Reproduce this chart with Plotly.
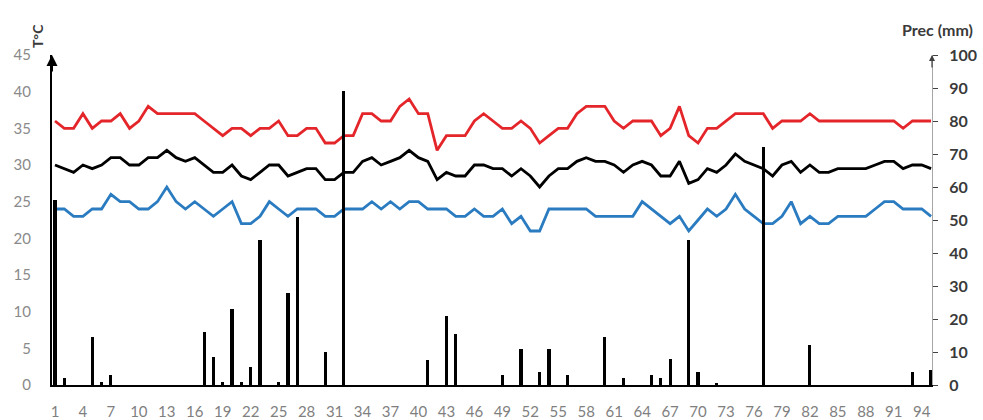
import plotly.graph_objects as go

# Day index (1..95)
days = list(range(1, 96))

# Daily maximum temperature (°C)
t_max = [36, 35, 35, 37, 35, 36, 36, 37, 35, 36, 38, 37, 37, 37, 37, 37, 36, 35, 34, 35,
         35, 34, 35, 35, 36, 34, 34, 35, 35, 33, 33, 34, 34, 37, 37, 36, 36, 38, 39, 37,
         37, 32, 34, 34, 34, 36, 37, 36, 35, 35, 36, 35, 33, 34, 35, 35, 37, 38, 38, 38,
         36, 35, 36, 36, 36, 34, 35, 38, 34, 33, 35, 35, 36, 37, 37, 37, 37, 35, 36, 36,
         36, 37, 36, 36, 36, 36, 36, 36, 36, 36, 36, 35, 36, 36, 36]

# Daily mean temperature (°C)
t_mean = [30, 29.5, 29, 30, 29.5, 30, 31, 31, 30, 30, 31, 31, 32, 31, 30.5, 31, 30, 29, 29, 30,
          28.5, 28, 29, 30, 30, 28.5, 29, 29.5, 29.5, 28, 28, 29, 29, 30.5, 31, 30, 30.5, 31, 32, 31,
          30.5, 28, 29, 28.5, 28.5, 30, 30, 29.5, 29.5, 28.5, 29.5, 28.5, 27, 28.5, 29.5, 29.5, 30.5, 31, 30.5, 30.5,
          30, 29, 30, 30.5, 30, 28.5, 28.5, 30.5, 27.5, 28, 29.5, 29, 30, 31.5, 30.5, 30, 29.5, 28.5, 30, 30.5,
          29, 30, 29, 29, 29.5, 29.5, 29.5, 29.5, 30, 30.5, 30.5, 29.5, 30, 30, 29.5]

# Daily minimum temperature (°C)
t_min = [24, 24, 23, 23, 24, 24, 26, 25, 25, 24, 24, 25, 27, 25, 24, 25, 24, 23, 24, 25,
         22, 22, 23, 25, 24, 23, 24, 24, 24, 23, 23, 24, 24, 24, 25, 24, 25, 24, 25, 25,
         24, 24, 24, 23, 23, 24, 23, 23, 24, 22, 23, 21, 21, 24, 24, 24, 24, 24, 23, 23,
         23, 23, 23, 25, 24, 23, 22, 23, 21, 22.5, 24, 23, 24, 26, 24, 23, 22, 22, 23, 25,
         22, 23, 22, 22, 23, 23, 23, 23, 24, 25, 25, 24, 24, 24, 23]

# Daily precipitation (mm), days without rain omitted
rain_days = [1, 2, 5, 6, 7, 17, 18, 19, 20, 21, 22, 23, 25, 26, 27, 30, 32, 41, 43, 44,
             49, 51, 53, 54, 56, 60, 62, 65, 66, 67, 69, 70, 72, 77, 82, 93, 95]
rain_mm = [56, 2, 14.5, 1, 3, 16, 8.5, 1, 23, 1, 5.5, 44, 1, 28, 51, 10, 89, 7.5, 21, 15.5,
           3, 11, 4, 11, 3, 14.5, 2, 3, 2, 8, 44, 4, 0.5, 72, 12, 4, 4.5]

# Axis tick labels
x_ticks = list(range(1, 96, 3))
t_ticks = list(range(0, 50, 5))
p_ticks = list(range(0, 110, 10))

FONT = "Lato, 'Open Sans', sans-serif"

fig = go.Figure()

fig.add_trace(go.Scatter(x=days, y=t_max, mode="lines", name="Tmax",
                         line=dict(color="#e4262b", width=2.8), yaxis="y"))
fig.add_trace(go.Scatter(x=days, y=t_mean, mode="lines", name="Tmean",
                         line=dict(color="#000000", width=2.8), yaxis="y"))
fig.add_trace(go.Scatter(x=days, y=t_min, mode="lines", name="Tmin",
                         line=dict(color="#2a7bc0", width=2.8), yaxis="y"))
fig.add_trace(go.Bar(x=rain_days, y=rain_mm, name="Prec", width=0.34,
                     marker=dict(color="#000000", line=dict(width=0)), yaxis="y2"))

fig.update_layout(
    width=983, height=420,
    margin=dict(l=52, r=51, t=55, b=35, autoexpand=False),
    paper_bgcolor="white", plot_bgcolor="white",
    showlegend=False,
    font=dict(family=FONT, size=15, color="#7f7f7f"),
    bargap=0,
    xaxis=dict(
        range=[0.68, 95.1], automargin=False,
        tickmode="array", tickvals=x_ticks, ticktext=[str(v) for v in x_ticks],
        showgrid=False, zeroline=False,
        showline=True, linecolor="#000000", linewidth=2,
        ticks="", ticklabelstandoff=12,
        tickfont=dict(family=FONT, size=15, color="#7f7f7f"),
    ),
    yaxis=dict(
        range=[0, 45], automargin=False,
        tickmode="array", tickvals=t_ticks,
        showgrid=False, zeroline=False,
        showline=True, linecolor="#000000", linewidth=2,
        ticks="", ticklabelstandoff=16,
        tickfont=dict(family=FONT, size=15, color="#8a8a8a"),
    ),
    yaxis2=dict(
        range=[0, 100], overlaying="y", side="right", automargin=False,
        tickmode="array", tickvals=p_ticks,
        showgrid=False, zeroline=False,
        showline=True, linecolor="#a6a6a6", linewidth=1,
        ticks="outside", ticklen=5, tickcolor="#404040", tickwidth=1,
        ticklabelstandoff=8,
        tickfont=dict(family=FONT, size=16, color="#3a3a3a", weight="bold"),
    ),
    annotations=[
        # arrowheads on top of both vertical axes
        dict(xref="paper", yref="paper", x=0, y=1.0, ax=0, ay=18, text="",
             showarrow=True, arrowhead=2, arrowsize=1.1, arrowwidth=2, arrowcolor="#000000"),
        dict(xref="paper", yref="paper", x=1, y=1.0, ax=0, ay=14, text="",
             showarrow=True, arrowhead=2, arrowsize=1.0, arrowwidth=1.2, arrowcolor="#404040"),
        # axis titles
        dict(xref="paper", yref="paper", x=-0.017, y=1.0, yshift=5, text="T°C",
             showarrow=False, textangle=-90, xanchor="center", yanchor="bottom",
             font=dict(family=FONT, size=14, color="#3a3a3a", weight="bold")),
        dict(xref="paper", yref="paper", x=1.006, y=1.0, yshift=26, text="Prec (mm)",
             showarrow=False, xanchor="center", yanchor="middle",
             font=dict(family=FONT, size=16, color="#3a3a3a", weight="bold")),
    ],
)

fig.write_html("out.html")
